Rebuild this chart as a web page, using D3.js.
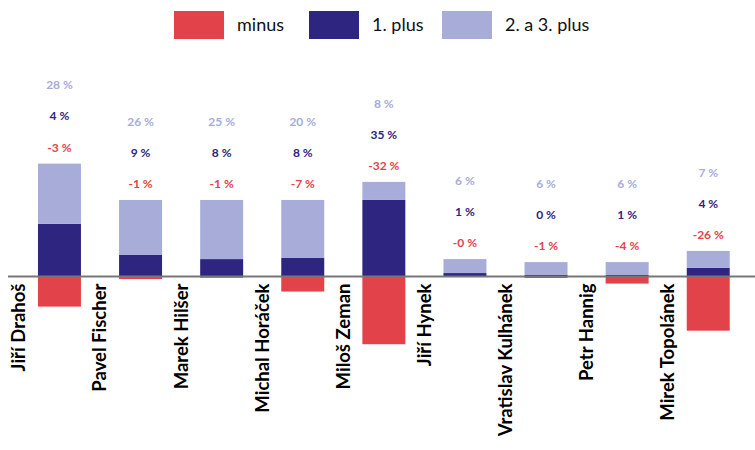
<!DOCTYPE html>
<html><head><meta charset="utf-8">
<script src="https://cdn.jsdelivr.net/npm/d3@7"></script>
<style>body{margin:0;background:#fff}svg{display:block}text{font-family:Lato,"Noto Sans",sans-serif}</style>
</head><body>
<svg id="c" width="755" height="450"></svg>
<script>
const names = ["Jiří Drahoš","Pavel Fischer","Marek Hilšer","Michal Horáček","Miloš Zeman","Jiří Hynek","Vratislav Kulhánek","Petr Hannig","Mirek Topolánek"];
const minusVals = [-14, -1.2, -0.6, -7, -31.5, -0.2, -0.7, -3.3, -25.2];
const firstVals = [24.5, 10, 8.1, 8.6, 35.6, 1.6, 0.7, 0.7, 4];
const laterVals = [28, 25.6, 27.5, 27, 8.4, 6.5, 6, 6, 7.9];
const minusLabels = ["-3 %","-1 %","-1 %","-7 %","-32 %","-0 %","-1 %","-4 %","-26 %"];
const firstLabels = ["4 %","9 %","8 %","8 %","35 %","1 %","0 %","1 %","4 %"];
const laterLabels = ["28 %","26 %","25 %","20 %","8 %","6 %","6 %","6 %","7 %"];
const legendLabels = ["minus","1. plus","2. a 3. plus"];
const colors = ["#e2434b","#2e2580","#a7acd9"];

const svg = d3.select("#c");
const x = d3.scaleBand().domain(names).range([17.7, 750]).paddingInner(0.47).paddingOuter(0.25);
const y = d3.scaleLinear().domain([-40, 60]).range([362.5, 147.5]);
const bw = x.bandwidth();
const gap = x.step() - bw;

const g = svg.append("g");
g.selectAll("rect.m").data(names).join("rect").attr("class","m")
  .attr("x", d => x(d)).attr("width", bw)
  .attr("y", y(0)).attr("height", (d,i) => y(minusVals[i]) - y(0))
  .attr("fill", colors[0]);
g.selectAll("rect.f").data(names).join("rect").attr("class","f")
  .attr("x", d => x(d)).attr("width", bw)
  .attr("y", (d,i) => y(firstVals[i])).attr("height", (d,i) => y(0) - y(firstVals[i]))
  .attr("fill", colors[1]);
g.selectAll("rect.l").data(names).join("rect").attr("class","l")
  .attr("x", d => x(d)).attr("width", bw)
  .attr("y", (d,i) => y(firstVals[i] + laterVals[i])).attr("height", (d,i) => y(firstVals[i]) - y(firstVals[i] + laterVals[i]))
  .attr("fill", colors[2]);

svg.append("line").attr("x1", 8).attr("x2", 755).attr("y1", y(0)).attr("y2", y(0))
  .attr("stroke", "#777").attr("stroke-width", 2);

const rows = [[minusLabels, colors[0], 16], [firstLabels, colors[1], 47.5], [laterLabels, colors[2], 78.5]];
rows.forEach(([labs, col, off]) => {
  svg.append("g").selectAll("text").data(names).join("text")
    .attr("x", d => x(d) + bw/2)
    .attr("y", (d,i) => y(firstVals[i] + laterVals[i]) - off)
    .attr("dy", "0.35em")
    .attr("text-anchor", "middle")
    .attr("font-size", 12).attr("font-weight", 700)
    .attr("fill", col)
    .text((d,i) => labs[i]);
});

svg.append("g").selectAll("text").data(names).join("text")
  .attr("transform", d => `translate(${x(d) - gap/2},${y(0) + 7}) rotate(-90)`)
  .attr("dy", "0.35em")
  .attr("text-anchor", "end")
  .attr("font-size", 18.5).attr("font-weight", 700).attr("fill", "#000")
  .text(d => d);

const legX = [174, 309, 442];
const lg = svg.append("g").selectAll("g").data(legendLabels).join("g")
  .attr("transform", (d,i) => `translate(${legX[i]},11)`);
lg.append("rect").attr("width", 50).attr("height", 28).attr("fill", (d,i) => colors[i]);
lg.append("text").attr("x", 63).attr("y", 14).attr("dy", "0.35em")
  .attr("font-size", 18).attr("fill", "#111").text(d => d);
</script>
</body></html>
